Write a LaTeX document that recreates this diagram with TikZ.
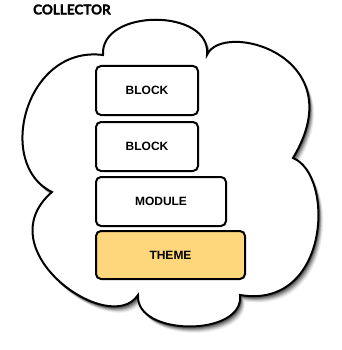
\documentclass[tikz,border=0pt]{standalone}
\usepackage{fontspec}
\setmainfont{Liberation Sans}
\newfontfamily\titlefont{Lato}[BoldFeatures={FakeBold=2}]
\definecolor{themefill}{HTML}{FED67C}
\tikzset{
  boxstyle/.style={draw=black, line width=2pt, rounded corners=5pt, fill=white},
  boxtext/.style={font=\fontsize{12}{13}\selectfont\bfseries},
  cloudline/.style={draw=black, line width=2pt, fill=white},
}
\begin{document}
\begin{tikzpicture}[x=1pt,y=-1pt]
\useasboundingbox (0,0) rectangle (341,350);
\def\cloudpath{(103,55) .. controls (100,8) and (212,8) .. (207,55)
  .. controls (222,20) and (355,55) .. (293,158)
  .. controls (335,175) and (330,310) .. (240,295)
  .. controls (245,337) and (135,337) .. (138,295)
  .. controls (110,338) and (-15,250) .. (52,192)
  .. controls (-5,165) and (25,45) .. cycle}
\foreach \i/\o in {6/0.06,5/0.08,4/0.12,3/0.16,2/0.2,1/0.25}{
  \fill[black, opacity=\o, shift={(\i*0.7+0.5,\i*0.9+1)}] \cloudpath;
}
\path[cloudline] \cloudpath;
\node[anchor=west, inner sep=0pt, font=\titlefont\fontsize{13.5}{14}\selectfont\bfseries] (title) at (33,9.5) {COLLECTOR};
\draw[boxstyle] (96,66) rectangle (198,115);
\node[boxtext] (b1) at (147,90.5) {BLOCK};
\draw[boxstyle] (96,122) rectangle (198,171);
\node[boxtext] (b2) at (147,146.5) {BLOCK};
\draw[boxstyle] (96,177) rectangle (226,226);
\node[boxtext] (m) at (161,201.5) {MODULE};
\draw[boxstyle, fill=themefill] (96,231) rectangle (245,279);
\node[boxtext] (t) at (170.5,255) {THEME};
\end{tikzpicture}
\end{document}
